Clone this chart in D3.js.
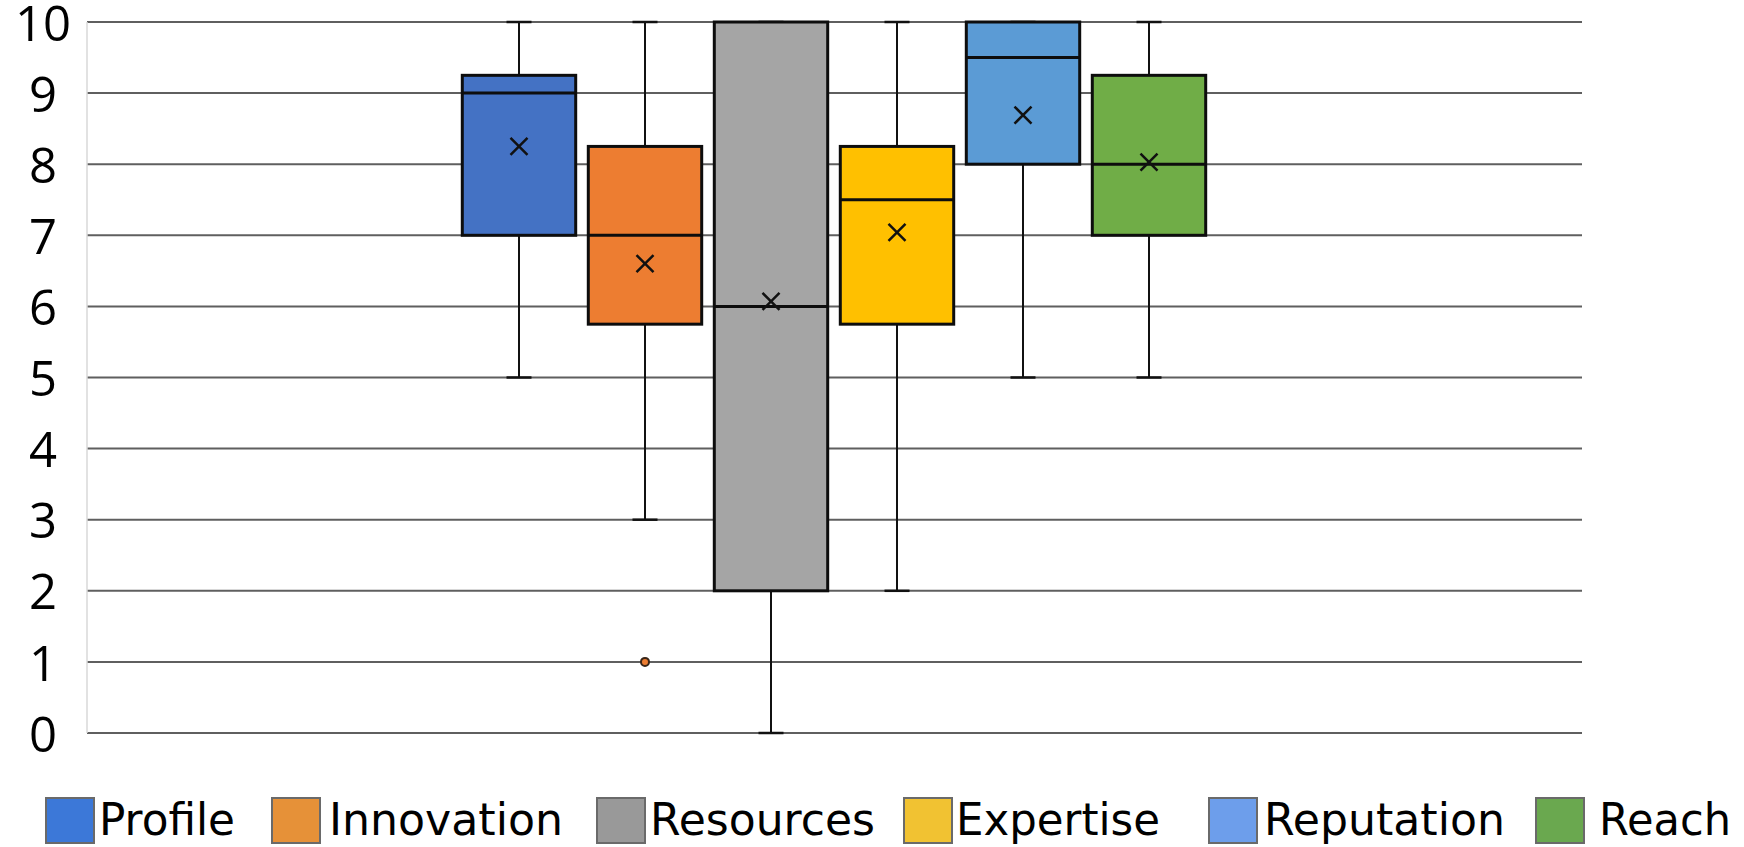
<!DOCTYPE html>
<html>
<head>
<meta charset="utf-8">
<script src="https://cdn.jsdelivr.net/npm/d3@7"></script>
<style>
  html, body { margin: 0; padding: 0; background: #ffffff; }
  svg { display: block; }
</style>
</head>
<body>
<svg id="chart" width="1744" height="847"></svg>
<script>
// Score distributions per attribute (0–10 scale)
const categories = ["Profile", "Innovation", "Resources", "Expertise", "Reputation", "Reach"];
const minValues    = [5,    3,    0,    2,    5,    5];
const q1Values     = [7,    5.75, 2,    5.75, 8,    7];
const medianValues = [9,    7,    6,    7.5,  9.5,  8];
const q3Values     = [9.25, 8.25, 10,   8.25, 10,   9.25];
const maxValues    = [10,   10,   10,   10,   10,   10];
const meanValues   = [8.25, 6.6,  6.07, 7.04, 8.69, 8.03];
const outliers     = [[], [1], [], [], [], []];
const yTicks       = [0, 1, 2, 3, 4, 5, 6, 7, 8, 9, 10];

const boxColors    = ["#4472c4", "#ed7d31", "#a5a5a5", "#ffc000", "#5b9bd5", "#70ad47"];
const legendColors = ["#3c78d8", "#e69138", "#999999", "#f1c232", "#6d9eeb", "#6aa84f"];

const rows = categories.map((c, i) => ({
  name: c, min: minValues[i], q1: q1Values[i], median: medianValues[i],
  q3: q3Values[i], max: maxValues[i], mean: meanValues[i], out: outliers[i],
  fill: boxColors[i], legend: legendColors[i]
}));

const svg = d3.select("#chart");
const plot = { left: 87, right: 1582, top: 22, bottom: 733 };

const y = d3.scaleLinear().domain([0, 10]).range([plot.bottom, plot.top]);
const x = d3.scaleBand().domain(categories).range([456, 1212])
  .paddingInner(0.1).paddingOuter(0.05);

// horizontal gridlines
svg.append("g").selectAll("line").data(yTicks).join("line")
  .attr("x1", plot.left).attr("x2", plot.right)
  .attr("y1", d => y(d)).attr("y2", d => y(d))
  .attr("stroke", "#5f5f5f").attr("stroke-width", 2);

// vertical axis line
svg.append("line")
  .attr("x1", plot.left).attr("x2", plot.left)
  .attr("y1", plot.top).attr("y2", plot.bottom)
  .attr("stroke", "#d9d9d9").attr("stroke-width", 1.5);

// y-axis labels
const yAxis = d3.axisLeft(y).tickValues(yTicks).tickSize(0).tickPadding(0);
const gy = svg.append("g").attr("transform", "translate(43,0)").call(yAxis);
gy.select(".domain").remove();
gy.selectAll("text")
  .attr("text-anchor", "middle")
  .attr("x", 0)
  .attr("dy", "0.37em")
  .attr("fill", "#000")
  .style("font-family", "'Open Sans', sans-serif")
  .style("font-size", "49px");

// boxes
const capW = 25;
const g = svg.append("g").selectAll("g").data(rows).join("g")
  .attr("transform", d => `translate(${x(d.name)},0)`);
const bw = x.bandwidth();

// whiskers
g.append("line")
  .attr("x1", bw / 2).attr("x2", bw / 2)
  .attr("y1", d => y(d.max)).attr("y2", d => y(d.q3))
  .attr("stroke", "#111").attr("stroke-width", 2);
g.append("line")
  .attr("x1", bw / 2).attr("x2", bw / 2)
  .attr("y1", d => y(d.q1)).attr("y2", d => y(d.min))
  .attr("stroke", "#111").attr("stroke-width", 2);
g.append("line")
  .attr("x1", bw / 2 - capW / 2).attr("x2", bw / 2 + capW / 2)
  .attr("y1", d => y(d.max)).attr("y2", d => y(d.max))
  .attr("stroke", "#111").attr("stroke-width", 2.5);
g.append("line")
  .attr("x1", bw / 2 - capW / 2).attr("x2", bw / 2 + capW / 2)
  .attr("y1", d => y(d.min)).attr("y2", d => y(d.min))
  .attr("stroke", "#111").attr("stroke-width", 2.5);

// interquartile box
g.append("rect")
  .attr("x", 0).attr("width", bw)
  .attr("y", d => y(d.q3)).attr("height", d => y(d.q1) - y(d.q3))
  .attr("fill", d => d.fill)
  .attr("stroke", "#0d0d0d").attr("stroke-width", 3);

// median
g.append("line")
  .attr("x1", 0).attr("x2", bw)
  .attr("y1", d => y(d.median)).attr("y2", d => y(d.median))
  .attr("stroke", "#0d0d0d").attr("stroke-width", 3);

// mean marker
const m = 8.5;
g.append("path")
  .attr("d", d => {
    const cx = bw / 2, cy = y(d.mean);
    return `M${cx - m},${cy - m}L${cx + m},${cy + m}M${cx - m},${cy + m}L${cx + m},${cy - m}`;
  })
  .attr("stroke", "#111").attr("stroke-width", 2.5).attr("fill", "none");

// outliers
g.selectAll("circle").data(d => d.out.map(v => ({ v, fill: d.fill }))).join("circle")
  .attr("cx", bw / 2).attr("cy", d => y(d.v)).attr("r", 4)
  .attr("fill", d => d.fill).attr("stroke", "#3a2618").attr("stroke-width", 2);

// legend
const legendStarts = [46, 272, 597, 904, 1209, 1536];
const legendTextWidths = [136, 234, 225, 204, 241, 132];
const legendTextGaps = [5, 9, 5, 4, 7, 15];
const lg = svg.append("g").selectAll("g").data(rows).join("g")
  .attr("transform", (d, i) => `translate(${legendStarts[i]},798)`);
lg.append("rect")
  .attr("x", 0).attr("y", 0).attr("width", 48).attr("height", 45)
  .attr("fill", d => d.legend).attr("stroke", "#6a6a6a").attr("stroke-width", 2);
lg.append("text")
  .attr("x", (d, i) => 48 + legendTextGaps[i])
  .attr("y", 37)
  .attr("textLength", (d, i) => legendTextWidths[i])
  .attr("lengthAdjust", "spacingAndGlyphs")
  .style("font-family", "'DejaVu Sans', sans-serif")
  .style("font-size", "44px")
  .attr("fill", "#000")
  .text(d => d.name);
</script>
</body>
</html>
